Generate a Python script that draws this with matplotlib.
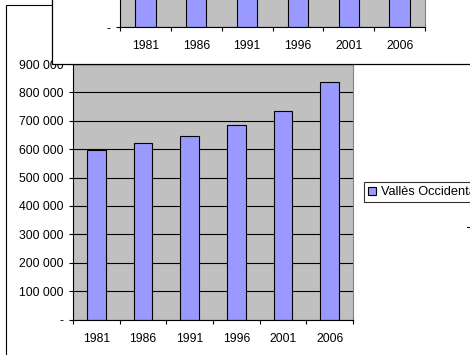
import matplotlib
matplotlib.use('Agg')
import matplotlib.pyplot as plt
from matplotlib.patches import Rectangle
from matplotlib.lines import Line2D
from matplotlib.ticker import FuncFormatter, FixedLocator

plt.rcParams['font.family'] = ['Liberation Sans', 'DejaVu Sans']
plt.rcParams['font.size'] = 8.7

# Population of the Vallès Occidental comarca by census year
years = ['1981', '1986', '1991', '1996', '2001', '2006']
population = [597000, 621000, 648000, 685000, 734000, 837000]
series_name = 'Vallès Occidental'

W, H = 470, 355
BAR_COLOR = '#9999FF'
PLOT_BG = '#C0C0C0'


def fx(px):
	return px / W


def fy(py):
	# pixel row measured from the top -> figure fraction
	return 1 - py / H


def thousands(v, pos):
	if v == 0:
		return '-'
	return '{:,.0f}'.format(v).replace(',', ' ')


def StyleAxes(ax):
	ax.set_facecolor(PLOT_BG)
	ax.set_xlim(-0.5, len(years) - 0.5)
	ax.set_ylim(0, 900000)
	ax.yaxis.set_major_locator(FixedLocator(range(0, 900001, 100000)))
	ax.yaxis.set_major_formatter(FuncFormatter(thousands))
	ax.grid(axis='y', color='black', linewidth=0.8, zorder=0)
	ax.set_axisbelow(True)
	# ticks on category boundaries, labels in the middle
	ax.xaxis.set_major_locator(FixedLocator([i - 0.5 for i in range(len(years) + 1)]))
	ax.xaxis.set_minor_locator(FixedLocator(range(len(years))))
	ax.set_xticklabels([], minor=False)
	ax.set_xticklabels(years, minor=True)
	ax.tick_params(axis='x', which='major', direction='out', length=3, width=0.8, color='black')
	ax.tick_params(axis='x', which='minor', length=0, pad=9.5)
	ax.tick_params(axis='y', direction='out', length=3, width=0.8, pad=4)
	for side in ('left', 'bottom', 'top'):
		ax.spines[side].set_color('black')
		ax.spines[side].set_linewidth(0.8)
	ax.spines['right'].set_color('#808080')
	ax.spines['right'].set_linewidth(0.8)


def DrawBars(ax):
	return ax.bar(range(len(years)), population, width=0.4, color=BAR_COLOR,
		edgecolor='black', linewidth=0.8, zorder=2, label=series_name)


fig = plt.figure(figsize=(W / 100, H / 100), dpi=100)
fig.patch.set_facecolor('white')

# main chart frame
fig.patches.append(Rectangle((fx(6), -0.2), 2, fy(5.3) + 0.2, transform=fig.transFigure,
	fill=False, edgecolor='black', linewidth=0.8, zorder=1))

ax = fig.add_axes([fx(73), fy(319.5), fx(280), 255.5 / H], zorder=0)
StyleAxes(ax)
bars = DrawBars(ax)

leg = fig.legend(handles=[bars], loc='upper left', bbox_to_anchor=(fx(364), fy(182.3)),
	bbox_transform=fig.transFigure, frameon=True, fancybox=False, borderpad=0.3,
	handlelength=0.6, handleheight=0.6, handletextpad=0.4, borderaxespad=0,
	fontsize=9.2)
leg.get_frame().set_edgecolor('black')
leg.get_frame().set_linewidth(0.8)
leg.set_zorder(1)

# stray dash at the right edge
fig.lines.append(Line2D([fx(466.5), fx(470)], [fy(226.7), fy(226.7)],
	transform=fig.transFigure, color='black', linewidth=0.8))

# second chart lying on top of the first one
fig.patches.append(Rectangle((fx(52), fy(64.3)), 2, 1, transform=fig.transFigure,
	facecolor='white', edgecolor='black', linewidth=0.9, zorder=2))

ax2 = fig.add_axes([fx(120), fy(27.3), fx(305), 330 / H], zorder=3)
StyleAxes(ax2)
DrawBars(ax2)

fig.savefig('out.png', dpi=100)
